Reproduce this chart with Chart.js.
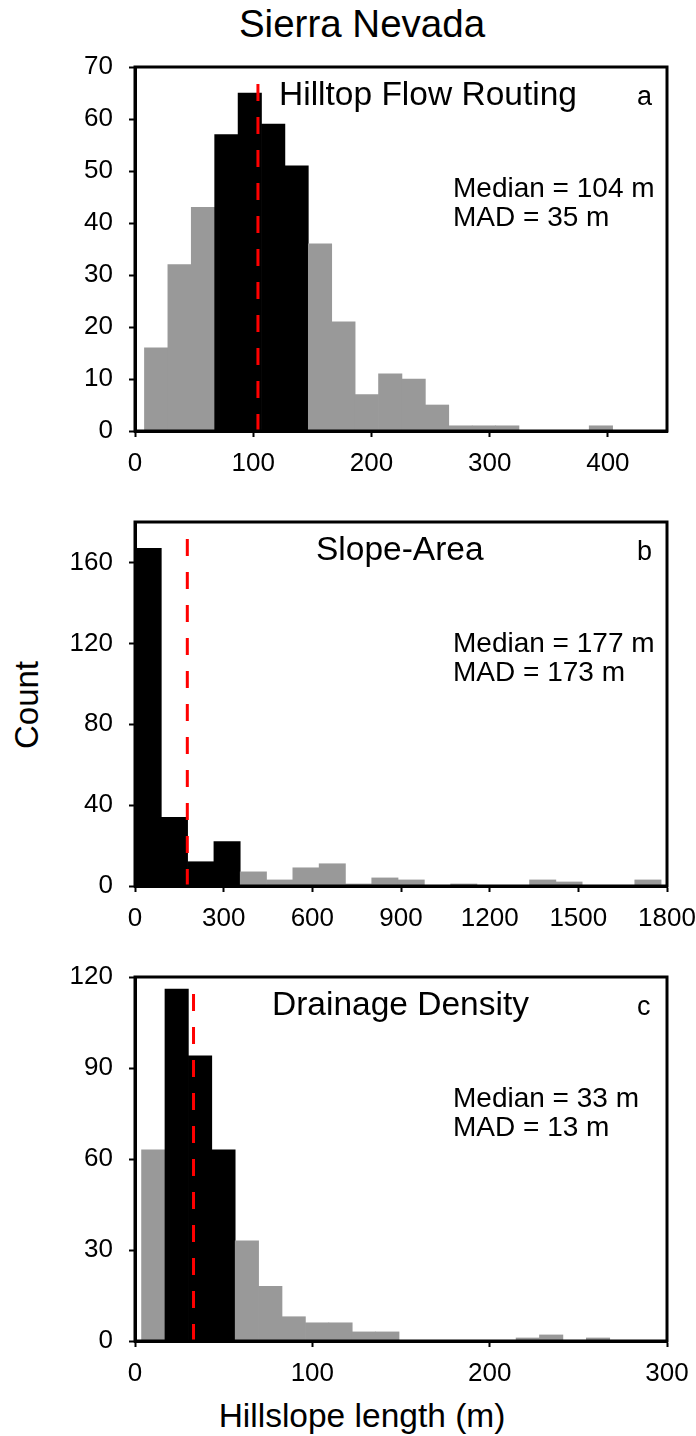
<!DOCTYPE html>
<html>
<head>
<meta charset="utf-8">
<script src="https://cdn.jsdelivr.net/npm/chart.js@4.4.1/dist/chart.umd.min.js"></script>
<style>
  body { margin: 0; background: #fff; }
  #page { position: relative; width: 696px; height: 1436px; overflow: hidden; font-family: "Liberation Sans", Arial, sans-serif; color: #000; }
  canvas { position: absolute; left: 0; }
  .lbl { position: absolute; white-space: nowrap; }
  #titulo { font-size: 38.5px; line-height: 38px; top: 5px; left: 362px; transform: translateX(-50%); }
  #count { font-size: 33px; line-height: 33px; left: 26px; top: 705px; transform: translate(-50%, -50%) rotate(-90deg); }
  #xlabel { font-size: 33.5px; line-height: 32px; top: 1400px; left: 362px; transform: translateX(-50%); }
</style>
</head>
<body>
<div id="page">
  <div class="lbl" id="titulo">Sierra Nevada</div>
  <div class="lbl" id="count">Count</div>
  <div class="lbl" id="xlabel">Hillslope length (m)</div>
  <canvas id="g1" width="696" height="480" style="top:0px"></canvas>
  <canvas id="g2" width="696" height="455" style="top:480px"></canvas>
  <canvas id="g3" width="696" height="455" style="top:935px"></canvas>
</div>
<script>
// Datos (conteos por clase del histograma)
const hilltopCounts = [16, 32, 43, 57, 65, 59, 51, 36, 21, 7, 11, 10, 5, 1, 1, 1, 0, 0, 0, 1];
const hilltopBinStart = 8;
const hilltopBinWidth = 19.8;
const hilltopMadBins = [3, 4, 5, 6];
const hilltopMedian = 104;

const slopeAreaCounts = [167, 34, 12, 22, 7, 3, 9, 11, 1, 4, 3, 0, 1, 0, 0, 3, 2, 0, 0, 3];
const slopeAreaBinStart = 0;
const slopeAreaBinWidth = 89;
const slopeAreaMadBins = [0, 1, 2, 3];
const slopeAreaMedian = 177;

const drainageCounts = [63, 116, 94, 63, 33, 18, 8, 6, 6, 3, 3, 0, 0, 0, 0, 0, 1, 2, 0, 1];
const drainageBinStart = 3.7;
const drainageBinWidth = 13.2;
const drainageMadBins = [1, 2, 3];
const drainageMedian = 33;

// Ejes: [min, max, paso]
const hilltopXTicks = [0, 450, 100];
const hilltopYTicks = [0, 70, 10];
const slopeAreaXTicks = [0, 1800, 300];
const slopeAreaYTicks = [0, 180, 40];
const drainageXTicks = [0, 300, 100];
const drainageYTicks = [0, 120, 30];

const FUENTE = '"Liberation Sans", Arial, sans-serif';
const GRIS = '#999999';

function crearPanel(id, cfg) {
  var barras = cfg.counts.map((c, i) => ({ x: cfg.start + cfg.width * (i + 0.5), y: c }));
  var colores = cfg.counts.map((c, i) => cfg.mad.includes(i) ? '#000000' : GRIS);
  var topeMediana = cfg.y[1] * 0.975;

  var ejeComun = {
    grid: { drawOnChartArea: false, drawTicks: true, tickLength: 6, tickWidth: 2, color: '#000', offset: false },
    border: { display: true, color: '#000', width: 3 }
  };

  var textos = {
    id: 'textos' + id,
    afterDatasetsDraw(chart) {
      // marco completo alrededor del area
      var ctx = chart.ctx, a = chart.chartArea;
      ctx.save();
      ctx.strokeStyle = '#000';
      ctx.lineWidth = 3;
      ctx.strokeRect(a.left, a.top, a.right - a.left, a.bottom - a.top);
      ctx.restore();
    },
    afterDraw(chart) {
      var ctx = chart.ctx, a = chart.chartArea;
      ctx.save();
      ctx.fillStyle = '#000';
      ctx.textBaseline = 'alphabetic';
      ctx.textAlign = 'left';
      ctx.font = '33.5px ' + FUENTE;
      ctx.fillText(cfg.nombre, cfg.nombreX, a.top + 38);
      ctx.font = '27px ' + FUENTE;
      ctx.fillText(cfg.letra, 637, a.top + 38);
      ctx.font = '28px ' + FUENTE;
      ctx.fillText('Median = ' + cfg.median + ' m', 453, a.top + 130);
      ctx.fillText('MAD = ' + cfg.madTxt + ' m', 453, a.top + 159);
      ctx.restore();
    }
  };

  return new Chart(document.getElementById(id), {
    type: 'bar',
    data: {
      datasets: [
        {
          type: 'line',
          data: [{ x: cfg.median, y: 0 }, { x: cfg.median, y: topeMediana }],
          borderColor: '#ff0000',
          borderWidth: 3,
          borderDash: [17, 16],
          pointRadius: 0,
          fill: false,
          order: 0
        },
        {
          data: barras,
          backgroundColor: colores,
          borderWidth: 0,
          barPercentage: 1.0,
          categoryPercentage: 1.0,
          order: 1
        }
      ]
    },
    options: {
      responsive: false,
      animation: false,
      events: [],
      layout: { padding: { left: 55, right: 29, top: cfg.padTop, bottom: 0 } },
      plugins: { legend: { display: false }, tooltip: { enabled: false } },
      scales: {
        x: Object.assign({}, ejeComun, {
          type: 'linear', min: cfg.x[0], max: cfg.x[1], offset: false,
          ticks: { stepSize: cfg.x[2], includeBounds: false, autoSkip: false, maxRotation: 0, padding: 11, color: '#000',
                   font: { size: 26, family: FUENTE }, callback: v => String(v) },
          afterFit: s => { s.height = 49; s.paddingLeft = 0; s.paddingRight = 0; }
        }),
        y: Object.assign({}, ejeComun, {
          min: cfg.y[0], max: cfg.y[1],
          ticks: { stepSize: cfg.y[2], includeBounds: false, padding: 16, color: '#000',
                   font: { size: 26, family: FUENTE }, callback: v => String(v) },
          afterFit: s => { s.width = 80; }
        })
      }
    },
    plugins: [textos]
  });
}

crearPanel('g1', {
  counts: hilltopCounts, start: hilltopBinStart, width: hilltopBinWidth, mad: hilltopMadBins,
  median: hilltopMedian, madTxt: 35, x: hilltopXTicks, y: hilltopYTicks,
  nombre: 'Hilltop Flow Routing', nombreX: 279, letra: 'a', padTop: 67
});
crearPanel('g2', {
  counts: slopeAreaCounts, start: slopeAreaBinStart, width: slopeAreaBinWidth, mad: slopeAreaMadBins,
  median: slopeAreaMedian, madTxt: 173, x: slopeAreaXTicks, y: slopeAreaYTicks,
  nombre: 'Slope-Area', nombreX: 316, letra: 'b', padTop: 42
});
crearPanel('g3', {
  counts: drainageCounts, start: drainageBinStart, width: drainageBinWidth, mad: drainageMadBins,
  median: drainageMedian, madTxt: 13, x: drainageXTicks, y: drainageYTicks,
  nombre: 'Drainage Density', nombreX: 272, letra: 'c', padTop: 42
});
</script>
</body>
</html>
